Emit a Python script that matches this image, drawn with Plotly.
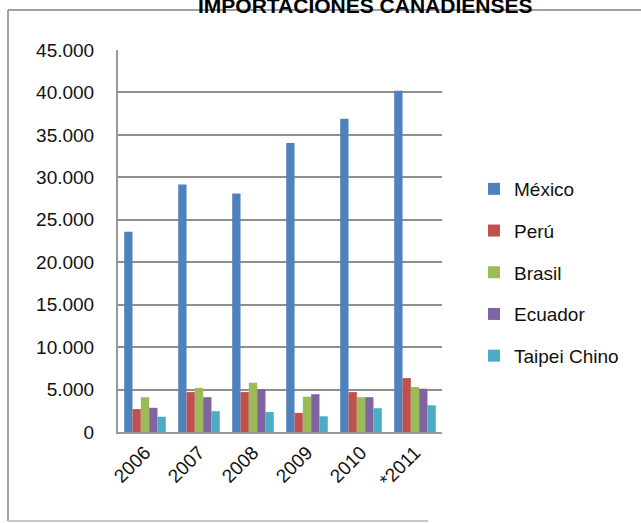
import plotly.graph_objects as go

years = ["2006", "2007", "2008", "2009", "2010", "*2011"]
mexico = [23600, 29150, 28100, 34050, 36900, 40200]
peru = [2700, 4700, 4700, 2250, 4700, 6350]
brasil = [4100, 5200, 5800, 4150, 4100, 5300]
ecuador = [2850, 4100, 5050, 4450, 4100, 5100]
taipei = [1800, 2450, 2350, 1850, 2800, 3150]

series = [
    ("México", mexico, "#4F81BD"),
    ("Perú", peru, "#C0504D"),
    ("Brasil", brasil, "#9BBB59"),
    ("Ecuador", ecuador, "#8064A2"),
    ("Taipei Chino", taipei, "#4BACC6"),
]

W, H = 641, 523
ML, MR, MT, MB = 118, 199, 50, 91
PW, PH = W - ML - MR, H - MT - MB


def px(x):
    return (x - ML) / PW


def py(y):
    return 1 - (y - MT) / PH


fig = go.Figure()
for i, (name, vals, color) in enumerate(series):
    fig.add_trace(go.Bar(
        x=years, y=vals, name=name, legendgroup=str(i),
        marker=dict(color=color, line=dict(width=0)),
    ))

font = "Arial, Liberation Sans, sans-serif"
fig.update_layout(
    width=W, height=H,
    margin=dict(l=ML, r=MR, t=MT, b=MB, pad=0),
    paper_bgcolor="white", plot_bgcolor="white",
    barmode="group", bargap=0.23, bargroupgap=0,
    separators=",.",
    font=dict(family=font, size=19, color="#111"),
    showlegend=True,
    legend=dict(
        x=px(474), xanchor="left", y=py(170), yanchor="top",
        font=dict(size=19, color="#111"),
        tracegroupgap=14, itemwidth=30,
        bgcolor="rgba(0,0,0,0)",
    ),
    xaxis=dict(
        tickangle=-45, showgrid=False, showline=True, linecolor="#9a9a9a",
        linewidth=2, ticks="", tickfont=dict(size=19),
    ),
    yaxis=dict(
        range=[0, 45000], dtick=5000, tickformat=",.0f",
        showgrid=True, gridcolor="#8f8f8f", gridwidth=2,
        showline=True, linecolor="#9a9a9a", linewidth=2,
        zeroline=False, ticks="", ticklabelstandoff=18,
        tickfont=dict(size=19),
    ),
    shapes=[
        dict(type="line", xref="paper", yref="paper",
             x0=px(8), x1=px(645), y0=py(10), y1=py(10),
             line=dict(color="#a0a0a0", width=2)),
        dict(type="line", xref="paper", yref="paper",
             x0=px(8), x1=px(8), y0=py(10), y1=py(521),
             line=dict(color="#a0a0a0", width=2)),
        dict(type="line", xref="paper", yref="paper",
             x0=px(8), x1=px(428), y0=py(521), y1=py(521),
             line=dict(color="#c8c8c8", width=2)),
    ],
    annotations=[
        dict(text="<b>IMPORTACIONES CANADIENSES</b>", xref="paper", yref="paper",
             x=px(365), y=py(19), xanchor="center", yanchor="bottom",
             showarrow=False, font=dict(size=21, color="black", family=font)),
    ],
)

fig.write_html("out.html")
